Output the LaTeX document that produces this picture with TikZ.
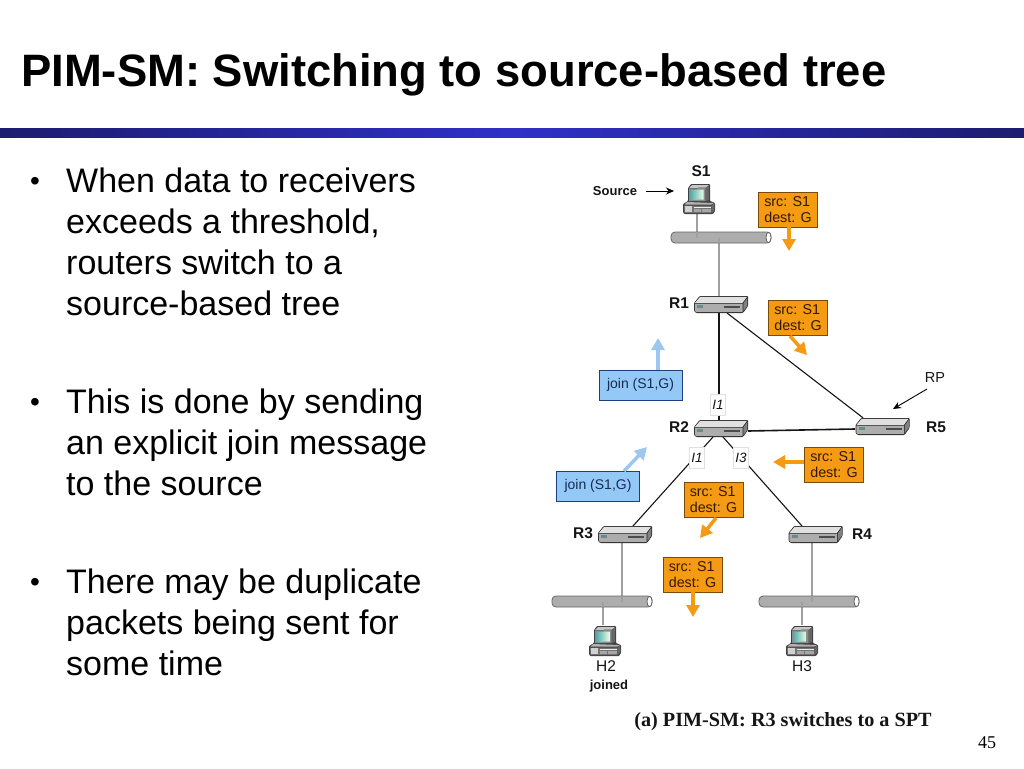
\documentclass[tikz,border=0pt]{standalone}
\usepackage{fontspec}
\setmainfont{Liberation Sans}
\newfontfamily\capfont{Liberation Serif}
\usetikzlibrary{arrows.meta,shadings}
\definecolor{orangebox}{HTML}{F59A13}
\definecolor{orangeedge}{HTML}{7A4A08}
\definecolor{bluebox}{HTML}{93C8F7}
\definecolor{blueedge}{HTML}{1F3F78}
\definecolor{bluearrow}{HTML}{9CC8F0}
\definecolor{wire}{HTML}{A0A0A0}
\definecolor{ink}{HTML}{151515}
\definecolor{barend}{HTML}{1C1C70}
\definecolor{barmid}{HTML}{3030C8}
\tikzset{
  x=1pt,y=-1pt,
  titletext/.style={anchor=base west,inner sep=0,font=\fontsize{45.4}{48}\selectfont\bfseries},
  bullettext/.style={anchor=base west,inner sep=0,align=left,font=\fontsize{34}{41}\selectfont},
  bulletmark/.style={anchor=base west,inner sep=0,font=\fontsize{28}{34}\selectfont},
  msgorange/.style={draw=orangeedge,line width=0.8pt,fill=orangebox,minimum width=59pt,minimum height=35pt,inner sep=0,align=left,text=black!80!orange,font=\fontsize{14.3}{16.5}\selectfont},
  msgblue/.style={draw=blueedge,line width=0.8pt,fill=bluebox,minimum width=83pt,minimum height=30pt,inner sep=0,text=blueedge!70!black,font=\fontsize{14}{16}\selectfont},
  arroworange/.style={draw=orangebox,line width=3.5pt,-{Triangle[width=13pt,length=12pt]}},
  arrowblue/.style={draw=bluearrow,line width=3.5pt,-{Triangle[width=13pt,length=12pt]}},
  wiregray/.style={draw=wire,line width=1.3pt},
  wireblack/.style={draw=ink,line width=1.1pt},
  wirethick/.style={draw=ink,line width=1.6pt},
  routerbox/.style={minimum width=54pt,minimum height=17pt,inner sep=0},
  pcbox/.style={minimum width=32pt,minimum height=31pt,inner sep=0},
  busbox/.style={minimum width=100pt,minimum height=11pt,inner sep=0},
  netlabel/.style={inner sep=0,text=ink,font=\fontsize{15.5}{17}\selectfont},
  netbold/.style={inner sep=0,text=ink,font=\fontsize{15.5}{17}\selectfont\bfseries},
  smallbold/.style={inner sep=0,text=ink,font=\fontsize{13}{15}\selectfont\bfseries},
  iflabel/.style={fill=white,draw=black!12,line width=0.5pt,minimum width=15pt,minimum height=21pt,inner sep=0,text=ink,font=\fontsize{13.5}{15}\selectfont\itshape},
  pointer/.style={draw=black,line width=0.9pt,-{Stealth[length=8pt,width=7pt]}},
  router/.pic={
    \fill[black!85,rounded corners=1pt] (0,7)--(5.7,0)--(54,0)--(54,10)--(49,17)--(2,17)--(0,15)--cycle;
    \fill[black!12] (1,6.8)--(6.2,0.8)--(53,0.8)--(48.5,6.8)--cycle;
    \fill[black!32] (0.8,7.6)--(48.6,7.6)--(48.6,16.2)--(2.4,16.2)--(0.8,14.8)--cycle;
    \fill[black!50] (49.4,7.2)--(53.3,1.8)--(53.3,9.7)--(49.4,15.2)--cycle;
    \fill[teal!50!black!60] (3,9)--(9,9)--(9,12)--(3,12)--cycle;
    \draw[black!70,line width=1.1pt] (30,11)--(46,11);
  },
  pc/.pic={
    \fill[black!75,rounded corners=0.8pt] (5,5)--(8,1)--(27,1)--(27,18)--(32,20)--(32,28)--(30,31)--(1,31)--(0,29)--(0,21)--(5,18)--cycle;
    \fill[black!22] (6,5)--(9,2)--(26,2)--(23,4.5)--cycle;
    \fill[black!45] (6,5.5)--(22.5,5)--(22.5,18)--(6,18)--cycle;
    \shade[left color=teal!65!white,right color=green!10!white] (7.5,7)--(20.5,6.5)--(20.5,16.5)--(7.5,17)--cycle;
    \fill[black!60] (23.2,5)--(26,2.5)--(26,17)--(23.2,18)--cycle;
    \fill[black!30] (1.5,21.5)--(4,19)--(31,20)--(28.5,21.5)--cycle;
    \fill[black!55] (1,22.5)--(28.5,22.5)--(28.5,30)--(1.5,30)--cycle;
    \fill[black!18] (1.8,23.2)--(9,23.2)--(9,29.2)--(1.8,29.2)--cycle;
    \fill[black!8] (11,24)--(27.5,24)--(27.5,25.2)--(11,25.2)--cycle;
    \fill[black!35] (11,26.2)--(17.5,26.2)--(17.5,29)--(11,29)--cycle;
    \fill[black!35] (19,26.2)--(27.5,26.2)--(27.5,29)--(19,29)--cycle;
    \fill[black!60] (29,22)--(31.3,20.5)--(31.3,27.6)--(29,29.6)--cycle;
  },
  bus/.pic={
    \filldraw[draw=black!60,fill=black!32,line width=0.8pt,rounded corners=4pt] (0,0) rectangle (100,11);
    \filldraw[draw=black!60,fill=white,line width=0.8pt] (97.5,5.5) ellipse [x radius=2.5,y radius=5.2];
  },
}
\begin{document}
\begin{tikzpicture}
\useasboundingbox (0,0) rectangle (1024,768);
\fill[white] (0,0) rectangle (1024,768);

% header
\node[titletext] (title) at (21,86) {PIM-SM: Switching to source-based tree};
\shade[left color=barend,right color=barend,middle color=barmid]
  (0,128) rectangle (1024,137);

% bullets
\node[bulletmark] (b1) at (30,190) {•};
\node[bullettext] (t1) at (66,315) {When data to receivers\\exceeds a threshold,\\routers switch to a\\source-based tree};
\node[bulletmark] (b2) at (30,411) {•};
\node[bullettext] (t2) at (66,495) {This is done by sending\\an explicit join message\\to the source};
\node[bulletmark] (b3) at (30,591) {•};
\node[bullettext] (t3) at (66,675) {There may be duplicate\\packets being sent for\\some time};

% network elements (anchors)
\node[pcbox] (S1) at (699,198.5) {};
\node[pcbox] (H2) at (605,640) {};
\node[pcbox] (H3) at (802,640) {};
\node[busbox] (busS) at (721,237.5) {};
\node[busbox] (busH2) at (602,601.5) {};
\node[busbox] (busH3) at (809,601.5) {};
\node[routerbox] (R1) at (721,304.5) {};
\node[routerbox] (R2) at (721,428.5) {};
\node[routerbox] (R5) at (882.5,426.5) {};
\node[routerbox] (R3) at (625,534.5) {};
\node[routerbox] (R4) at (815.5,534.5) {};

% connectors
\draw[wiregray] (697,214) -- (697,238);
\draw[wiregray] (busS.center -| 719,0) -- (R1.north -| 719,0);
\draw[wirethick] (R1.south -| 719,0) -- (R2.north -| 719,0);
\draw[wireblack] (727,313) -- (R5.north west -| 863,0);
\draw[wirethick] (748,431) -- (855,429);
\draw[wireblack] (713,437) -- (633,526);
\draw[wireblack] (723,437) -- (802,526);
\draw[wiregray] (622,543) -- (622,601.5);
\draw[wiregray] (812,543) -- (812,601.5);
\draw[wiregray] (603,607) -- (603,625);
\draw[wiregray] (802,607) -- (802,625);

% devices
\pic at (671,232) {bus};
\pic at (552,596) {bus};
\pic at (759,596) {bus};
\draw[wiregray] (697,232) -- (697,238);
\draw[wiregray] (719,238) -- (719,243);
\draw[wiregray] (622,596) -- (622,601.5);
\draw[wiregray] (812,596) -- (812,601.5);
\draw[wiregray] (603,601.5) -- (603,607);
\draw[wiregray] (802,601.5) -- (802,607);
\pic at (683,183) {pc};
\pic at (589,625) {pc};
\pic at (786,625) {pc};
\pic at (694,296) {router};
\pic at (694,420) {router};
\pic at (855.5,418) {router};
\pic at (598,526) {router};
\pic at (788.5,526) {router};

% interface labels
\node[iflabel] (i1) at (718,405) {I1};
\node[iflabel] (i2) at (697,458) {I1};
\node[iflabel] (i3) at (741,458) {I3};

% device labels
\node[netbold] (lS1) at (701,171) {S1};
\node[smallbold] (lsrc) at (615,191.5) {Source};
\coordinate (srcTip) at (674,191);
\coordinate (srcTail) at (646,191);
\draw[pointer] (srcTail) -- (srcTip);
\node[netbold] (lR1) at (679,303) {R1};
\node[netbold] (lR2) at (679,427) {R2};
\node[netbold] (lR3) at (583,533) {R3};
\node[netbold] (lR4) at (862,534) {R4};
\node[netbold] (lR5) at (936,427) {R5};
\node[netlabel,font=\fontsize{14.5}{16}\selectfont] (lRP) at (935,378) {RP};
\coordinate (rpTip) at (893,409);
\draw[pointer] (927,389) -- (rpTip);
\node[netlabel] (lH2) at (606,666) {H2};
\node[netlabel] (lH3) at (802,666) {H3};
\node[smallbold] (ljoined) at (609,686.5) {joined};

% messages
\node[msgorange] (m1) at (788,209.5) {src: S1\\dest: G};
\node[msgorange] (m2) at (798,317.5) {src: S1\\dest: G};
\node[msgorange] (m3) at (834,464.5) {src: S1\\dest: G};
\node[msgorange] (m4) at (713.5,499.5) {src: S1\\dest: G};
\node[msgorange] (m5) at (692.5,574.5) {src: S1\\dest: G};
\coordinate (a1) at (789,251);
\coordinate (a2) at (807,355);
\coordinate (a3) at (773,462);
\coordinate (a4) at (700,538);
\coordinate (a5) at (693,617);
\draw[arroworange] (m1.south -| a1) -- (a1);
\draw[arroworange] (790,336) -- (a2);
\draw[arroworange] (m3.west |- a3) -- (a3);
\draw[arroworange] (716,518) -- (a4);
\draw[arroworange] (m5.south -| a5) -- (a5);

\node[msgblue] (j1) at (640.5,385) {join (S1,G)};
\node[msgblue] (j2) at (598,486) {join (S1,G)};
\coordinate (ja1) at (658,338);
\coordinate (ja2) at (647,447);
\draw[arrowblue] (j1.north -| ja1) -- (ja1);
\draw[arrowblue] (624,471) -- (ja2);

% caption and page number
\node[inner sep=0,text=ink,font=\capfont\fontsize{20.2}{22}\selectfont\bfseries] (cap) at (783,722) {(a) PIM-SM: R3 switches to a SPT};
\node[inner sep=0,font=\capfont\fontsize{18}{20}\selectfont] (page) at (987,743) {45};
\end{tikzpicture}
\end{document}
